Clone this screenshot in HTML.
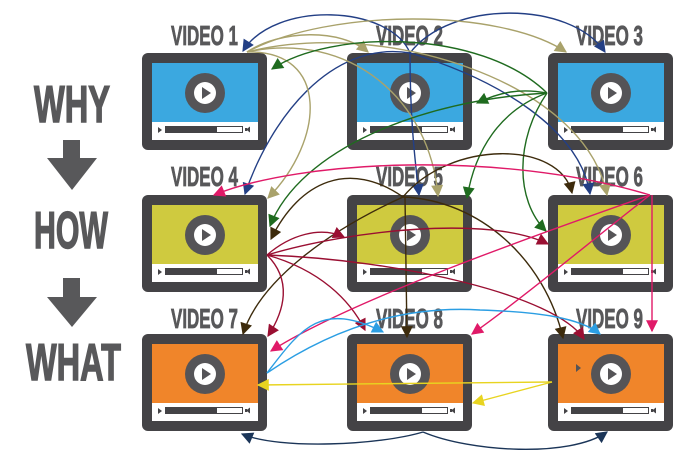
<!DOCTYPE html>
<html><head><meta charset="utf-8"><style>
html,body{margin:0;padding:0;background:#fff;}
svg{display:block;}
text{font-family:"Liberation Sans",sans-serif;font-weight:bold;fill:#58585a;stroke:#58585a;}
</style></head><body>
<svg width="700" height="462" viewBox="0 0 700 462" xmlns="http://www.w3.org/2000/svg">
<defs>
<g id="tv">
<rect x="0" y="0" width="125" height="97" rx="6" fill="#444346"/>
<rect x="10" y="10" width="106" height="59"/>
<rect x="10" y="69" width="106" height="18" fill="#fff"/>
<circle cx="63" cy="40" r="20" fill="#555457"/>
<circle cx="63" cy="40" r="11" fill="#fff"/>
<polygon points="60,34 60,46 69,40" fill="#555457"/>
<polygon points="16,74 16,80 20,77" fill="#444346"/>
<rect x="23.5" y="73.5" width="77" height="6" fill="#fff" stroke="#444346" stroke-width="1"/>
<rect x="23" y="73" width="52" height="7" fill="#444346"/>
<rect x="103" y="75" width="2" height="3" fill="#444346"/>
<polygon points="104,76.5 108,73.5 108,79.5" fill="#444346"/>
</g>
<marker id="mNavy" viewBox="0 0 10 10" refX="9" refY="5" markerWidth="14" markerHeight="12" markerUnits="userSpaceOnUse" orient="auto"><path d="M0,0L10,5L0,10z" fill="#233f85"/></marker>
<marker id="mKhaki" viewBox="0 0 10 10" refX="9" refY="5" markerWidth="14" markerHeight="12" markerUnits="userSpaceOnUse" orient="auto"><path d="M0,0L10,5L0,10z" fill="#a9a26b"/></marker>
<marker id="mGreen" viewBox="0 0 10 10" refX="9" refY="5" markerWidth="14" markerHeight="12" markerUnits="userSpaceOnUse" orient="auto"><path d="M0,0L10,5L0,10z" fill="#1f6b1f"/></marker>
<marker id="mBrown" viewBox="0 0 10 10" refX="9" refY="5" markerWidth="14" markerHeight="12" markerUnits="userSpaceOnUse" orient="auto"><path d="M0,0L10,5L0,10z" fill="#3d2b0c"/></marker>
<marker id="mCrimson" viewBox="0 0 10 10" refX="9" refY="5" markerWidth="14" markerHeight="12" markerUnits="userSpaceOnUse" orient="auto"><path d="M0,0L10,5L0,10z" fill="#9a0f32"/></marker>
<marker id="mPink" viewBox="0 0 10 10" refX="9" refY="5" markerWidth="14" markerHeight="12" markerUnits="userSpaceOnUse" orient="auto"><path d="M0,0L10,5L0,10z" fill="#e01a68"/></marker>
<marker id="mLBlue" viewBox="0 0 10 10" refX="9" refY="5" markerWidth="14" markerHeight="12" markerUnits="userSpaceOnUse" orient="auto"><path d="M0,0L10,5L0,10z" fill="#2b9ee3"/></marker>
<marker id="mYellow" viewBox="0 0 10 10" refX="9" refY="5" markerWidth="14" markerHeight="12" markerUnits="userSpaceOnUse" orient="auto"><path d="M0,0L10,5L0,10z" fill="#e8d420"/></marker>
<marker id="mNavy2" viewBox="0 0 10 10" refX="9" refY="5" markerWidth="14" markerHeight="12" markerUnits="userSpaceOnUse" orient="auto"><path d="M0,0L10,5L0,10z" fill="#1b3558"/></marker>
</defs>

<!-- Left labels -->
<text x="34" y="122" font-size="52" stroke-width="1.5" textLength="76" lengthAdjust="spacingAndGlyphs">WHY</text>
<rect x="63" y="140" width="17" height="19" fill="#58585a"/>
<polygon points="47,158 97,158 72,190" fill="#58585a"/>
<text x="34" y="248" font-size="52" stroke-width="1.5" textLength="74" lengthAdjust="spacingAndGlyphs">HOW</text>
<rect x="63" y="278" width="17" height="20" fill="#58585a"/>
<polygon points="47,297 97,297 72,327" fill="#58585a"/>
<text x="26" y="380" font-size="52" stroke-width="1.5" textLength="95" lengthAdjust="spacingAndGlyphs">WHAT</text>

<!-- Video labels -->
<g stroke-width="0.8">
<text x="171" y="45" font-size="28" textLength="67" lengthAdjust="spacingAndGlyphs">VIDEO 1</text>
<text x="376" y="45" font-size="28" textLength="67" lengthAdjust="spacingAndGlyphs">VIDEO 2</text>
<text x="576" y="45" font-size="28" textLength="67" lengthAdjust="spacingAndGlyphs">VIDEO 3</text>
<text x="171" y="186" font-size="28" textLength="67" lengthAdjust="spacingAndGlyphs">VIDEO 4</text>
<text x="376" y="186" font-size="28" textLength="67" lengthAdjust="spacingAndGlyphs">VIDEO 5</text>
<text x="576" y="186" font-size="28" textLength="67" lengthAdjust="spacingAndGlyphs">VIDEO 6</text>
<text x="171" y="328" font-size="28" textLength="67" lengthAdjust="spacingAndGlyphs">VIDEO 7</text>
<text x="376" y="328" font-size="28" textLength="67" lengthAdjust="spacingAndGlyphs">VIDEO 8</text>
<text x="576" y="328" font-size="28" textLength="67" lengthAdjust="spacingAndGlyphs">VIDEO 9</text>
</g>

<!-- TVs -->
<use href="#tv" x="142" y="53" fill="#3ba8e0"/>
<use href="#tv" x="347" y="53" fill="#3ba8e0"/>
<use href="#tv" x="548" y="53" fill="#3ba8e0"/>
<use href="#tv" x="142" y="195" fill="#cfca3f"/>
<use href="#tv" x="347" y="195" fill="#cfca3f"/>
<use href="#tv" x="548" y="195" fill="#cfca3f"/>
<use href="#tv" x="142" y="334" fill="#f0852a"/>
<use href="#tv" x="347" y="334" fill="#f0852a"/>
<use href="#tv" x="548" y="334" fill="#f0852a"/>
<polygon points="576,364 576,372 581,368" fill="#555457"/>

<g fill="none" stroke-width="1.4">
<!-- navy from V2 -->
<g stroke="#233f85">
<path d="M410,53 C390,5 275,0 243,51" marker-end="url(#mNavy)"/>
<path d="M410,53 C410,120 415,160 419,195" marker-end="url(#mNavy)"/>
<path d="M410,53 C450,0 570,0 605,52" marker-end="url(#mNavy)"/>
<path d="M410,53 C330,40 270,120 245,194" marker-end="url(#mNavy)"/>
<path d="M410,53 C500,80 580,130 590,194" marker-end="url(#mNavy)"/>
</g>
<!-- khaki from V1 -->
<g stroke="#a9a26b">
<path d="M247,52 C280,30 340,28 368,52" marker-end="url(#mKhaki)"/>
<path d="M247,52 C330,8 500,8 566,52" marker-end="url(#mKhaki)"/>
<path d="M247,52 C330,50 325,140 268,198" marker-end="url(#mKhaki)"/>
<path d="M247,52 C350,30 430,100 438,196" marker-end="url(#mKhaki)"/>
<path d="M247,52 C380,18 585,80 607,195" marker-end="url(#mKhaki)"/>
</g>
<!-- green from V3 -->
<g stroke="#1f6b1f">
<path d="M547,93 C480,28 330,30 272,69" marker-end="url(#mGreen)"/>
<path d="M547,93 C520,88 500,92 477,103" marker-end="url(#mGreen)"/>
<path d="M547,93 C420,100 300,150 270,226" marker-end="url(#mGreen)"/>
<path d="M547,93 C500,110 475,150 467,198" marker-end="url(#mGreen)"/>
<path d="M547,93 C515,140 515,200 546,231" marker-end="url(#mGreen)"/>
</g>
<!-- brown from V5 -->
<g stroke="#3d2b0c">
<path d="M403,197 C350,160 300,180 271,239" marker-end="url(#mBrown)"/>
<path d="M403,197 C450,140 560,140 572,193" marker-end="url(#mBrown)"/>
<path d="M405,197 L407,337" marker-end="url(#mBrown)"/>
<path d="M403,197 C330,230 260,280 243,334" marker-end="url(#mBrown)"/>
<path d="M403,197 C480,200 545,260 563,338" marker-end="url(#mBrown)"/>
</g>
<!-- crimson from V4 -->
<g stroke="#9a0f32">
<path d="M267,255 C290,235 320,226 344,237" marker-end="url(#mCrimson)"/>
<path d="M267,255 C350,230 490,215 548,244" marker-end="url(#mCrimson)"/>
<path d="M267,255 C292,280 285,310 268,336" marker-end="url(#mCrimson)"/>
<path d="M267,255 C320,270 350,300 365,330" marker-end="url(#mCrimson)"/>
<path d="M267,255 C400,260 555,295 584,339" marker-end="url(#mCrimson)"/>
</g>
<!-- pink from V6 -->
<g stroke="#e01a68">
<path d="M650,195 C500,150 300,160 214,195" marker-end="url(#mPink)"/>
<path d="M650,195 C550,230 350,300 271,351" marker-end="url(#mPink)"/>
<path d="M650,195 C580,250 520,300 472,334" marker-end="url(#mPink)"/>
<path d="M652,195 L652,331" marker-end="url(#mPink)"/>
</g>
<!-- light blue from V7 -->
<g stroke="#2b9ee3">
<path d="M267,373 C300,330 320,300 383,332" marker-end="url(#mLBlue)"/>
<path d="M267,373 C330,330 400,305 480,310 C540,312 580,318 600,334" marker-end="url(#mLBlue)"/>
</g>
<!-- yellow from V9 -->
<g stroke="#e8d420">
<path d="M552,382 L258,385" marker-end="url(#mYellow)"/>
<path d="M552,382 L473,403" marker-end="url(#mYellow)"/>
</g>
<!-- navy bottom from V8 -->
<g stroke="#1b3558">
<path d="M423,432 C380,445 280,450 242,434" marker-end="url(#mNavy2)"/>
<path d="M423,432 C470,452 570,458 607,432" marker-end="url(#mNavy2)"/>
</g>
</g>
</svg>
</body></html>
